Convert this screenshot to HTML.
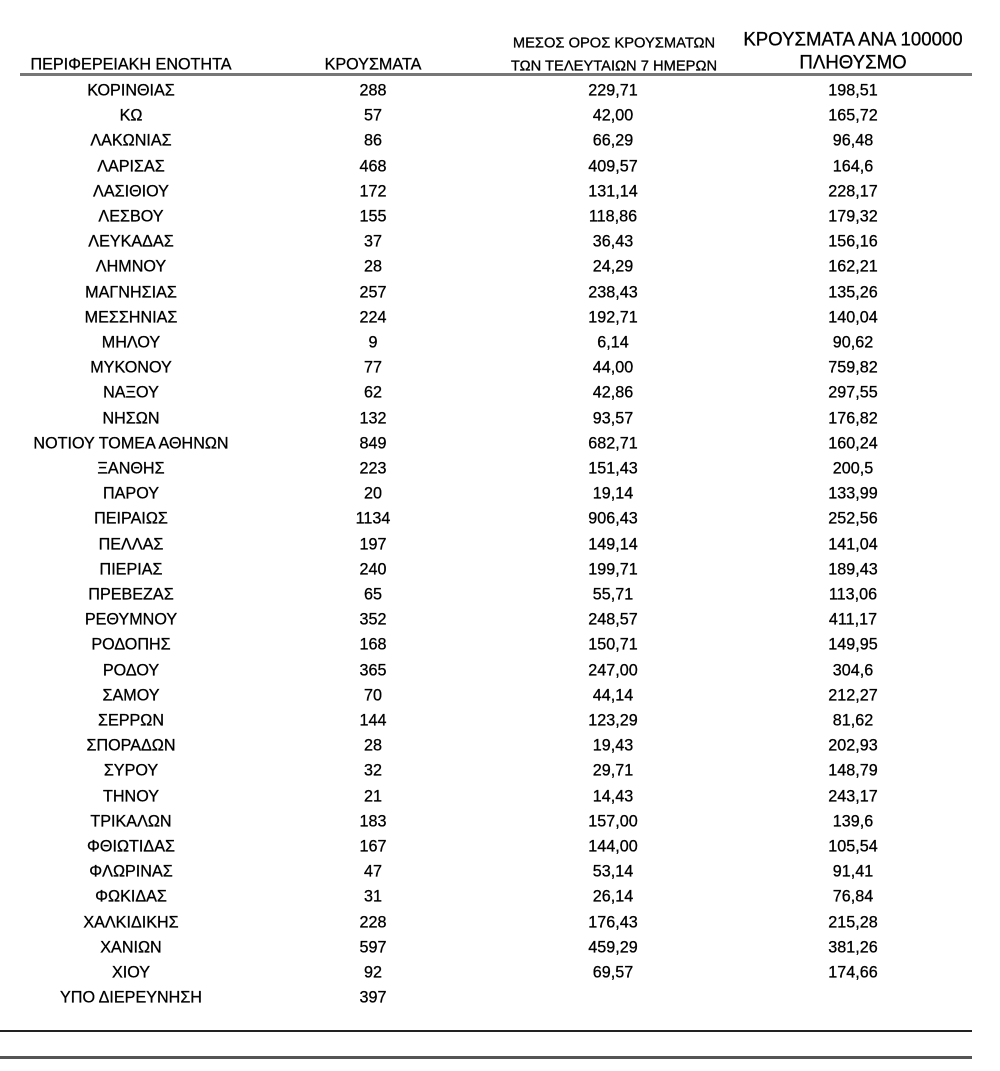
<!DOCTYPE html>
<html><head><meta charset="utf-8"><style>
body{margin:0;width:1000px;height:1071px;background:#fff;position:relative;overflow:hidden;font-family:"Liberation Sans","DejaVu Sans",sans-serif;color:#000}
.h{position:absolute;white-space:nowrap;line-height:1;-webkit-text-stroke:0.3px #000}
.row{position:absolute;left:0;width:1000px;height:25.2px}
.row span{position:absolute;top:12.6px;white-space:nowrap;transform:translate(-50%,-50%) scaleX(0.95);font-size:17px;line-height:1;-webkit-text-stroke:0.3px #000}
.a{left:131px}.b{left:373px}.c{left:613px}.d{left:853px}
.ln{position:absolute;background:#333}
</style></head><body>
<div class="h" style="left:131px;top:64px;font-size:17px;transform:translate(-50%,-50%) scaleX(0.95)">ΠΕΡΙΦΕΡΕΙΑΚΗ ΕΝΟΤΗΤΑ</div>
<div class="h" style="left:373px;top:64px;font-size:17px;transform:translate(-50%,-50%) scaleX(0.95)">ΚΡΟΥΣΜΑΤΑ</div>
<div class="h" style="left:614px;top:43px;font-size:15px;transform:translate(-50%,-50%) scaleX(0.98)">ΜΕΣΟΣ ΟΡΟΣ ΚΡΟΥΣΜΑΤΩΝ</div>
<div class="h" style="left:614px;top:66px;font-size:15px;transform:translate(-50%,-50%) scaleX(0.98)">ΤΩΝ ΤΕΛΕΥΤΑΙΩΝ 7 ΗΜΕΡΩΝ</div>
<div class="h" style="left:853px;top:40px;font-size:19px;transform:translate(-50%,-50%) scaleX(0.98)">ΚΡΟΥΣΜΑΤΑ ΑΝΑ 100000</div>
<div class="h" style="left:853px;top:63px;font-size:19px;transform:translate(-50%,-50%) scaleX(0.98)">ΠΛΗΘΥΣΜΟ</div>
<div class="ln" style="left:20px;top:73px;width:952px;height:3px;background:#777"></div>
<div style="position:absolute;left:0;top:77.4px">
<div class="row" style="top:0px"><span class="a">ΚΟΡΙΝΘΙΑΣ</span><span class="b">288</span><span class="c">229,71</span><span class="d">198,51</span></div>
<div class="row" style="top:25.2px"><span class="a">ΚΩ</span><span class="b">57</span><span class="c">42,00</span><span class="d">165,72</span></div>
<div class="row" style="top:50.4px"><span class="a">ΛΑΚΩΝΙΑΣ</span><span class="b">86</span><span class="c">66,29</span><span class="d">96,48</span></div>
<div class="row" style="top:75.6px"><span class="a">ΛΑΡΙΣΑΣ</span><span class="b">468</span><span class="c">409,57</span><span class="d">164,6</span></div>
<div class="row" style="top:100.8px"><span class="a">ΛΑΣΙΘΙΟΥ</span><span class="b">172</span><span class="c">131,14</span><span class="d">228,17</span></div>
<div class="row" style="top:126px"><span class="a">ΛΕΣΒΟΥ</span><span class="b">155</span><span class="c">118,86</span><span class="d">179,32</span></div>
<div class="row" style="top:151.2px"><span class="a">ΛΕΥΚΑΔΑΣ</span><span class="b">37</span><span class="c">36,43</span><span class="d">156,16</span></div>
<div class="row" style="top:176.4px"><span class="a">ΛΗΜΝΟΥ</span><span class="b">28</span><span class="c">24,29</span><span class="d">162,21</span></div>
<div class="row" style="top:201.6px"><span class="a">ΜΑΓΝΗΣΙΑΣ</span><span class="b">257</span><span class="c">238,43</span><span class="d">135,26</span></div>
<div class="row" style="top:226.8px"><span class="a">ΜΕΣΣΗΝΙΑΣ</span><span class="b">224</span><span class="c">192,71</span><span class="d">140,04</span></div>
<div class="row" style="top:252px"><span class="a">ΜΗΛΟΥ</span><span class="b">9</span><span class="c">6,14</span><span class="d">90,62</span></div>
<div class="row" style="top:277.2px"><span class="a">ΜΥΚΟΝΟΥ</span><span class="b">77</span><span class="c">44,00</span><span class="d">759,82</span></div>
<div class="row" style="top:302.4px"><span class="a">ΝΑΞΟΥ</span><span class="b">62</span><span class="c">42,86</span><span class="d">297,55</span></div>
<div class="row" style="top:327.6px"><span class="a">ΝΗΣΩΝ</span><span class="b">132</span><span class="c">93,57</span><span class="d">176,82</span></div>
<div class="row" style="top:352.8px"><span class="a">ΝΟΤΙΟΥ ΤΟΜΕΑ ΑΘΗΝΩΝ</span><span class="b">849</span><span class="c">682,71</span><span class="d">160,24</span></div>
<div class="row" style="top:378px"><span class="a">ΞΑΝΘΗΣ</span><span class="b">223</span><span class="c">151,43</span><span class="d">200,5</span></div>
<div class="row" style="top:403.2px"><span class="a">ΠΑΡΟΥ</span><span class="b">20</span><span class="c">19,14</span><span class="d">133,99</span></div>
<div class="row" style="top:428.4px"><span class="a">ΠΕΙΡΑΙΩΣ</span><span class="b">1134</span><span class="c">906,43</span><span class="d">252,56</span></div>
<div class="row" style="top:453.6px"><span class="a">ΠΕΛΛΑΣ</span><span class="b">197</span><span class="c">149,14</span><span class="d">141,04</span></div>
<div class="row" style="top:478.8px"><span class="a">ΠΙΕΡΙΑΣ</span><span class="b">240</span><span class="c">199,71</span><span class="d">189,43</span></div>
<div class="row" style="top:504px"><span class="a">ΠΡΕΒΕΖΑΣ</span><span class="b">65</span><span class="c">55,71</span><span class="d">113,06</span></div>
<div class="row" style="top:529.2px"><span class="a">ΡΕΘΥΜΝΟΥ</span><span class="b">352</span><span class="c">248,57</span><span class="d">411,17</span></div>
<div class="row" style="top:554.4px"><span class="a">ΡΟΔΟΠΗΣ</span><span class="b">168</span><span class="c">150,71</span><span class="d">149,95</span></div>
<div class="row" style="top:579.6px"><span class="a">ΡΟΔΟΥ</span><span class="b">365</span><span class="c">247,00</span><span class="d">304,6</span></div>
<div class="row" style="top:604.8px"><span class="a">ΣΑΜΟΥ</span><span class="b">70</span><span class="c">44,14</span><span class="d">212,27</span></div>
<div class="row" style="top:630px"><span class="a">ΣΕΡΡΩΝ</span><span class="b">144</span><span class="c">123,29</span><span class="d">81,62</span></div>
<div class="row" style="top:655.2px"><span class="a">ΣΠΟΡΑΔΩΝ</span><span class="b">28</span><span class="c">19,43</span><span class="d">202,93</span></div>
<div class="row" style="top:680.4px"><span class="a">ΣΥΡΟΥ</span><span class="b">32</span><span class="c">29,71</span><span class="d">148,79</span></div>
<div class="row" style="top:705.6px"><span class="a">ΤΗΝΟΥ</span><span class="b">21</span><span class="c">14,43</span><span class="d">243,17</span></div>
<div class="row" style="top:730.8px"><span class="a">ΤΡΙΚΑΛΩΝ</span><span class="b">183</span><span class="c">157,00</span><span class="d">139,6</span></div>
<div class="row" style="top:756px"><span class="a">ΦΘΙΩΤΙΔΑΣ</span><span class="b">167</span><span class="c">144,00</span><span class="d">105,54</span></div>
<div class="row" style="top:781.2px"><span class="a">ΦΛΩΡΙΝΑΣ</span><span class="b">47</span><span class="c">53,14</span><span class="d">91,41</span></div>
<div class="row" style="top:806.4px"><span class="a">ΦΩΚΙΔΑΣ</span><span class="b">31</span><span class="c">26,14</span><span class="d">76,84</span></div>
<div class="row" style="top:831.6px"><span class="a">ΧΑΛΚΙΔΙΚΗΣ</span><span class="b">228</span><span class="c">176,43</span><span class="d">215,28</span></div>
<div class="row" style="top:856.8px"><span class="a">ΧΑΝΙΩΝ</span><span class="b">597</span><span class="c">459,29</span><span class="d">381,26</span></div>
<div class="row" style="top:882px"><span class="a">ΧΙΟΥ</span><span class="b">92</span><span class="c">69,57</span><span class="d">174,66</span></div>
<div class="row" style="top:907.2px"><span class="a">ΥΠΟ ΔΙΕΡΕΥΝΗΣΗ</span><span class="b">397</span></div>
</div>
<div class="ln" style="left:0;top:1030px;width:972px;height:2px;background:#222"></div>
<div class="ln" style="left:0;top:1056px;width:972px;height:3px;background:#555"></div>
</body></html>
